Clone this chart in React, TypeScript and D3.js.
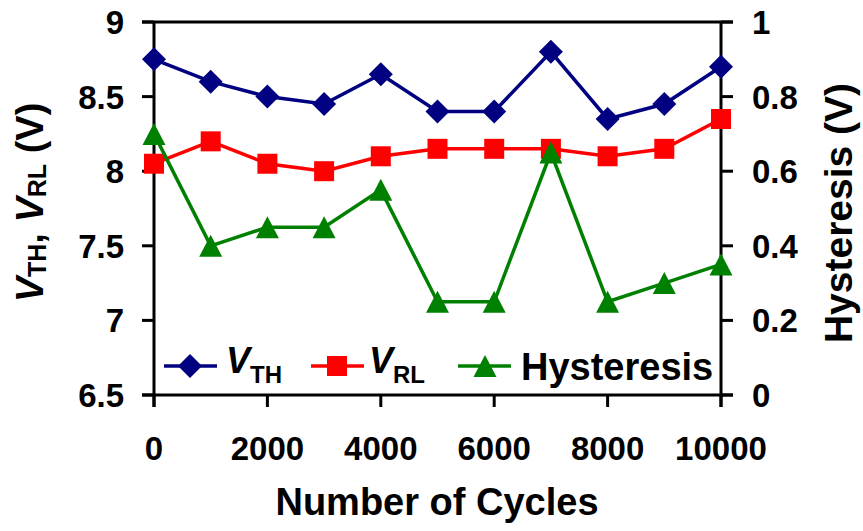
import React from "react";
import * as d3 from "d3";

const cycles = [0, 1000, 2000, 3000, 4000, 5000, 6000, 7000, 8000, 9000, 10000];
const vth = [8.75, 8.6, 8.5, 8.45, 8.65, 8.4, 8.4, 8.8, 8.35, 8.45, 8.7];
const vrl = [8.05, 8.2, 8.05, 8.0, 8.1, 8.15, 8.15, 8.15, 8.1, 8.15, 8.35];
const hyst = [0.7, 0.4, 0.45, 0.45, 0.55, 0.25, 0.25, 0.65, 0.25, 0.3, 0.35];
const xTicks = [0, 2000, 4000, 6000, 8000, 10000];
const yLeftTicks = [6.5, 7, 7.5, 8, 8.5, 9];
const yRightTicks = [0, 0.2, 0.4, 0.6, 0.8, 1];

const FONT = "'Liberation Sans', Arial, sans-serif";
const NAVY = "#000080";
const RED = "#FF0000";
const GREEN = "#008000";

export default function App() {
  const left = 154, right = 721, top = 22, bottom = 395;
  const x = d3.scaleLinear().domain([0, 10000]).range([left, right]);
  const yL = d3.scaleLinear().domain([6.5, 9]).range([bottom, top]);
  const yR = d3.scaleLinear().domain([0, 1]).range([bottom, top]);
  const tick = 12;

  const lineL = d3.line<number>().x((_, i) => x(cycles[i])).y((d) => yL(d));
  const lineR = d3.line<number>().x((_, i) => x(cycles[i])).y((d) => yR(d));

  const diamond = (cx: number, cy: number, r = 12) =>
    `M${cx},${cy - r}L${cx + r},${cy}L${cx},${cy + r}L${cx - r},${cy}Z`;
  const square = (cx: number, cy: number, s = 10) =>
    `M${cx - s},${cy - s}H${cx + s}V${cy + s}H${cx - s}Z`;
  const tri = (cx: number, cy: number, w = 11.5, h = 11) =>
    `M${cx},${cy - h}L${cx + w},${cy + h}L${cx - w},${cy + h}Z`;

  const legY = 366;

  return (
    <svg
      width={863}
      height={531}
      style={{ position: "absolute", left: 0, top: 0, background: "#fff" }}
      fontFamily={FONT}
      fontWeight="bold"
    >
      <rect width={863} height={531} fill="#fff" />
      {/* frame */}
      <g stroke="#000" strokeWidth={3} fill="none">
        <line x1={left - tick} x2={right + tick} y1={top} y2={top} />
        <line x1={left - tick} x2={right + tick} y1={bottom} y2={bottom} />
        <line x1={left} x2={left} y1={top} y2={bottom + tick} />
        <line x1={right} x2={right} y1={top} y2={bottom + tick} />
        {yLeftTicks.map((t) => (
          <line key={"l" + t} x1={left - tick} x2={left} y1={yL(t)} y2={yL(t)} />
        ))}
        {yRightTicks.map((t) => (
          <line key={"r" + t} x1={right} x2={right + tick} y1={yR(t)} y2={yR(t)} />
        ))}
        {xTicks.map((t) => (
          <line key={"x" + t} x1={x(t)} x2={x(t)} y1={bottom} y2={bottom + tick} />
        ))}
      </g>
      {/* tick labels */}
      <g fontSize={33} fill="#000">
        {yLeftTicks.map((t) => (
          <text key={"lt" + t} x={124} y={yL(t) + 12} textAnchor="end">
            {String(t)}
          </text>
        ))}
        {yRightTicks.map((t) => (
          <text key={"rt" + t} x={752} y={yR(t) + 12} textAnchor="start">
            {String(t)}
          </text>
        ))}
        {xTicks.map((t) => (
          <text key={"xt" + t} x={x(t)} y={460} textAnchor="middle">
            {String(t)}
          </text>
        ))}
      </g>
      {/* axis titles */}
      <text x={437} y={515} fontSize={38} textAnchor="middle">
        Number of Cycles
      </text>
      <text transform="translate(852,213) rotate(-90)" fontSize={39} textAnchor="middle">
        Hysteresis (V)
      </text>
      <text transform="translate(43,202.5) rotate(-90)" fontSize={38} textAnchor="middle">
        <tspan fontStyle="italic">V</tspan>
        <tspan fontSize={25} dy={3}>TH</tspan>
        <tspan dy={-3}>,  </tspan>
        <tspan fontStyle="italic">V</tspan>
        <tspan fontSize={25} dy={3}>RL</tspan>
        <tspan dy={-3}> (V)</tspan>
      </text>
      {/* series VTH */}
      <path d={lineL(vth) || ""} fill="none" stroke={NAVY} strokeWidth={3.5} />
      {vth.map((v, i) => (
        <path key={"d" + i} d={diamond(x(cycles[i]), yL(v))} fill={NAVY} />
      ))}
      {/* series VRL */}
      <path d={lineL(vrl) || ""} fill="none" stroke={RED} strokeWidth={3.5} />
      {vrl.map((v, i) => (
        <path key={"s" + i} d={square(x(cycles[i]), yL(v))} fill={RED} />
      ))}
      {/* series Hysteresis */}
      <path d={lineR(hyst) || ""} fill="none" stroke={GREEN} strokeWidth={3.5} />
      {hyst.map((v, i) => (
        <path key={"t" + i} d={tri(x(cycles[i]), yR(v))} fill={GREEN} />
      ))}
      {/* legend */}
      <g>
        <line x1={164} x2={217} y1={legY} y2={legY} stroke={NAVY} strokeWidth={3.5} />
        <path d={diamond(190, legY)} fill={NAVY} />
        <text x={226} y={373} fontSize={36}>
          <tspan fontStyle="italic">V</tspan>
          <tspan fontSize={24} dy={10}>TH</tspan>
        </text>
        <line x1={311} x2={364} y1={legY} y2={legY} stroke={RED} strokeWidth={3.5} />
        <path d={square(337, legY)} fill={RED} />
        <text x={369} y={373} fontSize={36}>
          <tspan fontStyle="italic">V</tspan>
          <tspan fontSize={24} dy={10}>RL</tspan>
        </text>
        <line x1={458} x2={511} y1={legY} y2={legY} stroke={GREEN} strokeWidth={3.5} />
        <path d={tri(485, legY)} fill={GREEN} />
        <text x={521} y={380} fontSize={38}>
          Hysteresis
        </text>
      </g>
    </svg>
  );
}
